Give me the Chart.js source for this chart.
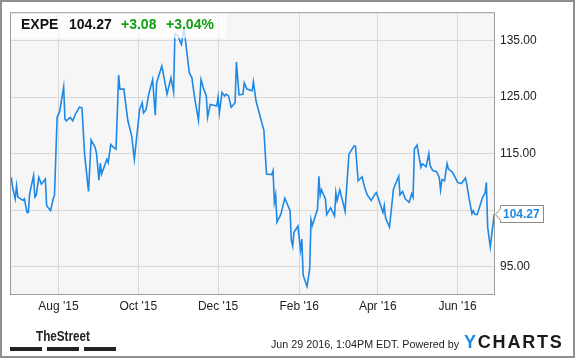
<!DOCTYPE html>
<html>
<head>
<meta charset="utf-8">
<script src="https://cdn.jsdelivr.net/npm/chart.js@4.4.0/dist/chart.umd.min.js"></script>
<style>
  html, body { margin: 0; padding: 0; background: #fff; }
  #wrap { width: 575px; height: 358px; }
</style>
</head>
<body>
<div id="wrap"><canvas id="chart" width="575" height="358"></canvas></div>
<script>
/* EXPE one-year price chart (YCharts style) */

// calendar days counted from 1 Aug 2015, and the close at that day
const baseDate = Date.UTC(2015, 7, 1);
const dayOffsets = [
  -36, -35, -33, -32, -31, -27, -26, -24, -23, -22,
  -19, -18, -17, -15, -13, -10, -9, -6, -4, -3,
  -1, 1, 4, 5, 6, 9, 11, 13, 16, 18,
  20, 23, 25, 28, 29, 31, 32, 33, 37, 38,
  40, 42, 44, 45, 46, 47, 50, 53, 56, 58,
  62, 64, 65, 67, 69, 72, 74, 75, 79, 80,
  83, 86, 88, 89, 91, 94, 96, 97, 100, 102,
  104, 107, 109, 111, 113, 114, 116, 121, 122, 123,
  125, 127, 128, 130, 132, 135, 136, 138, 141, 142,
  144, 148, 149, 151, 154, 157, 159, 163, 164, 165,
  166, 167, 170, 172, 173, 177, 178, 179, 180, 183,
  185, 186, 187, 190, 192, 193, 194, 198, 199, 200,
  201, 204, 205, 208, 211, 212, 213, 215, 218, 219,
  222, 226, 227, 229, 232, 234, 236, 239, 242, 243,
  247, 248, 249, 250, 253, 256, 260, 261, 263, 265,
  268, 270, 271, 272, 274, 277, 278, 281, 283, 284,
  286, 289, 291, 292, 293, 295, 297, 298, 301, 303,
  305, 308, 311, 312, 314, 316, 317, 318, 320, 324,
  326, 327, 328, 330, 333
];
const closes = [
  110.8, 109.0, 107.0, 109.3, 107.3, 106.7, 107.0, 104.6, 104.6, 107.9,
  111.1, 107.3, 107.6, 110.8, 109.6, 110.5, 105.8, 104.9, 107.0, 107.6,
  121.4, 122.5, 126.8, 121.1, 120.8, 121.4, 120.8, 122.0, 123.2, 123.1,
  114.9, 108.3, 117.4, 116.1, 115.2, 110.3, 113.3, 111.4, 114.0, 113.4,
  116.6, 116.1, 115.8, 122.0, 128.9, 126.4, 126.4, 120.9, 118.1, 114.0,
  122.7, 124.0, 122.2, 122.8, 125.5, 128.1, 121.8, 127.5, 130.5, 129.3,
  125.5, 128.4, 125.9, 136.2, 135.9, 134.3, 137.2, 135.2, 129.3, 128.4,
  125.0, 120.9, 128.1, 126.4, 125.2, 121.4, 123.7, 123.4, 125.0, 122.2,
  125.8, 125.2, 125.5, 125.2, 123.2, 124.0, 131.2, 125.4, 125.5, 127.5,
  126.4, 126.1, 127.7, 124.3, 121.7, 119.1, 111.4, 111.3, 112.0, 106.4,
  107.7, 102.9, 104.3, 106.2, 107.1, 104.9, 99.6, 98.6, 101.1, 102.2,
  97.9, 99.9, 93.5, 91.5, 94.6, 103.3, 102.3, 105.2, 111.0, 107.6,
  108.6, 107.0, 104.2, 105.4, 104.0, 108.1, 106.7, 108.6, 105.8, 104.8,
  114.9, 116.4, 116.3, 110.2, 110.9, 109.0, 107.7, 106.7, 107.9, 108.1,
  105.3, 104.6, 105.8, 103.6, 102.0, 108.7, 111.0, 107.7, 108.3, 107.0,
  106.4, 107.9, 107.3, 115.8, 116.5, 112.6, 113.2, 112.7, 115.0, 112.9,
  112.0, 111.8, 110.8, 108.6, 110.4, 110.2, 113.2, 112.3, 111.7, 110.9,
  109.9, 109.7, 110.7, 109.6, 106.8, 104.4, 104.9, 104.3, 104.2, 107.2,
  108.0, 109.9, 102.0, 98.5, 104.27
];

const monthTicks = ['2015-08-01', '2015-10-01', '2015-12-01', '2016-02-01', '2016-04-01', '2016-06-01'];
const monthLabels = ["Aug '15", "Oct '15", "Dec '15", "Feb '16", "Apr '16", "Jun '16"];
const priceTicks = [95, 105, 115, 125, 135];

const ticker = 'EXPE';
const lastPrice = 104.27;
const change = '+3.08';
const changePct = '+3.04%';
const stamp = 'Jun 29 2016, 1:04PM EDT. Powered by';

const LINE_BLUE = '#1e88e5';
const GREEN = '#12a012';
const FONT = '"Liberation Sans", Arial, sans-serif';

const toDay = s => (Date.parse(s + 'T00:00:00Z') - baseDate) / 86400000;
const tickDays = monthTicks.map(toDay);

Chart.defaults.font.family = FONT;
Chart.defaults.font.size = 12;
Chart.defaults.color = '#333';

const frame = {
  id: 'frame',
  beforeDraw(chart) {
    const { ctx, chartArea: a } = chart;
    ctx.save();
    ctx.fillStyle = '#fff';
    ctx.fillRect(0, 0, chart.width, chart.height);
    ctx.fillStyle = '#f6f6f6';
    ctx.fillRect(a.left, a.top, a.right - a.left, a.bottom - a.top);
    ctx.restore();
  },
  afterDatasetsDraw(chart) {
    const { ctx, chartArea: a } = chart;
    ctx.save();
    // quote box over the top-left of the plot
    ctx.fillStyle = 'rgba(255,255,255,0.75)';
    ctx.fillRect(a.left, a.top, 216, 26);
    ctx.font = 'bold 14px ' + FONT;
    ctx.textBaseline = 'alphabetic';
    ctx.fillStyle = '#111';
    ctx.fillText(ticker, 21, 29);
    ctx.fillText(lastPrice.toFixed(2), 69, 29);
    ctx.fillStyle = GREEN;
    ctx.fillText(change, 121, 29);
    ctx.fillText(changePct, 166, 29);
    // plot frame
    ctx.strokeStyle = '#9c9c9c';
    ctx.lineWidth = 1;
    ctx.strokeRect(a.left + 0.5, a.top + 0.5, a.right - a.left - 1, a.bottom - a.top - 1);
    ctx.restore();
  },
  afterDraw(chart) {
    const { ctx, chartArea: a } = chart;
    const y = Math.round(chart.scales.y.getPixelForValue(lastPrice));
    ctx.save();
    // last price flag
    ctx.beginPath();
    ctx.moveTo(a.right + 0.5, y + 0.5);
    ctx.lineTo(a.right + 5.5, y - 5.5);
    ctx.lineTo(a.right + 5.5, y - 8.5);
    ctx.lineTo(a.right + 48.5, y - 8.5);
    ctx.lineTo(a.right + 48.5, y + 8.5);
    ctx.lineTo(a.right + 5.5, y + 8.5);
    ctx.lineTo(a.right + 5.5, y + 6.5);
    ctx.closePath();
    ctx.fillStyle = '#fff';
    ctx.fill();
    ctx.strokeStyle = '#8a8a8a';
    ctx.stroke();
    ctx.fillStyle = LINE_BLUE;
    ctx.font = 'bold 12px ' + FONT;
    ctx.textBaseline = 'middle';
    ctx.fillText(lastPrice.toFixed(2), a.right + 8, y + 1);

    // footer
    ctx.textBaseline = 'alphabetic';
    ctx.fillStyle = '#222';
    ctx.font = 'bold 15px "Liberation Sans Narrow", ' + FONT;
    ctx.fillText('TheStreet', 36, 341, 54);
    ctx.fillRect(10, 347, 32, 4);
    ctx.fillRect(47, 347, 32, 4);
    ctx.fillRect(84, 347, 32, 4);

    ctx.font = '11px ' + FONT;
    ctx.fillText(stamp, 271, 348, 188);

    ctx.font = 'bold 18px ' + FONT;
    let x = 464;
    'YCHARTS'.split('').forEach((ch, i) => {
      ctx.fillStyle = i === 0 ? LINE_BLUE : '#1a1a1a';
      ctx.fillText(ch, x, 348);
      x += ctx.measureText(ch).width + 1.8;
    });

    // outer frame
    ctx.strokeStyle = '#8f8f8f';
    ctx.lineWidth = 2;
    ctx.strokeRect(1, 1, chart.width - 2, chart.height - 2);
    ctx.restore();
  }
};

new Chart(document.getElementById('chart'), {
  type: 'line',
  data: {
    datasets: [{
      data: dayOffsets.map((d, i) => ({ x: d, y: closes[i] })),
      borderColor: LINE_BLUE,
      borderWidth: 1.6,
      pointRadius: 0,
      tension: 0,
      fill: false
    }]
  },
  options: {
    responsive: false,
    animation: false,
    layout: { padding: { left: 10, top: 10, right: 0, bottom: 0 } },
    plugins: { legend: { display: false }, tooltip: { enabled: false } },
    scales: {
      x: {
        type: 'linear',
        min: -37,
        max: 333.6,
        afterFit: s => { s.height = 63; },
        afterBuildTicks: s => { s.ticks = tickDays.map(v => ({ value: v })); },
        grid: { color: '#d9d9d9', drawTicks: false },
        border: { display: false },
        ticks: {
          padding: 4,
          autoSkip: false,
          maxRotation: 0,
          color: '#222',
          callback: (v, i) => monthLabels[i]
        }
      },
      y: {
        position: 'right',
        min: 90,
        max: 140,
        afterFit: s => { s.width = 80; },
        afterBuildTicks: s => { s.ticks = priceTicks.map(v => ({ value: v })); },
        grid: { color: '#d9d9d9', drawTicks: false },
        border: { display: false },
        ticks: {
          padding: 5,
          color: '#222',
          // the 105 label sits under the last-price flag
          callback: v => v === 105 ? '' : v.toFixed(2)
        }
      }
    }
  },
  plugins: [frame]
});
</script>
</body>
</html>
